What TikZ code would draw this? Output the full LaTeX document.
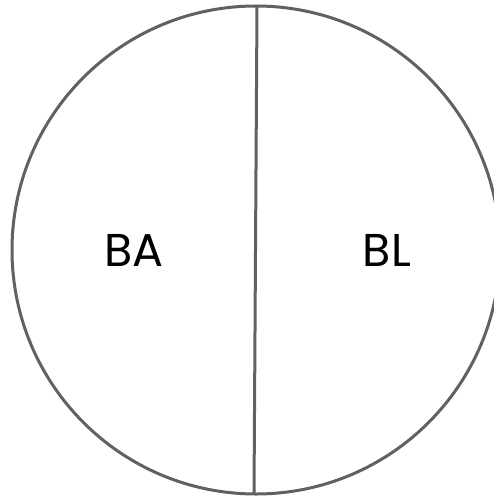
\documentclass[tikz,border=0pt]{standalone}
\usepackage{fontspec}
\setmainfont{Poppins}
\usepackage{tikz}
\usetikzlibrary{positioning}

\begin{document}
\begin{tikzpicture}[
    x=1pt, y=-1pt,
    region/.style={circle, draw=black!62, line width=3pt, minimum size=488pt, inner sep=0pt},
    split/.style={draw=black!62, line width=3pt},
    label/.style={font=\fontsize{46}{46}\selectfont, text=black}
]
\useasboundingbox (0,0) rectangle (493,497);

% Circle
\node[region] (disc) at (256,250) {};

% Dividing line
\coordinate (top) at (257,6);
\coordinate (bottom) at (254,494);
\draw[split] (top) -- (bottom);

% Labels
\node[label] (ba) at (134,250) {BA};
\node[label] (bl) at (387,250) {BL};

\end{tikzpicture}
\end{document}
